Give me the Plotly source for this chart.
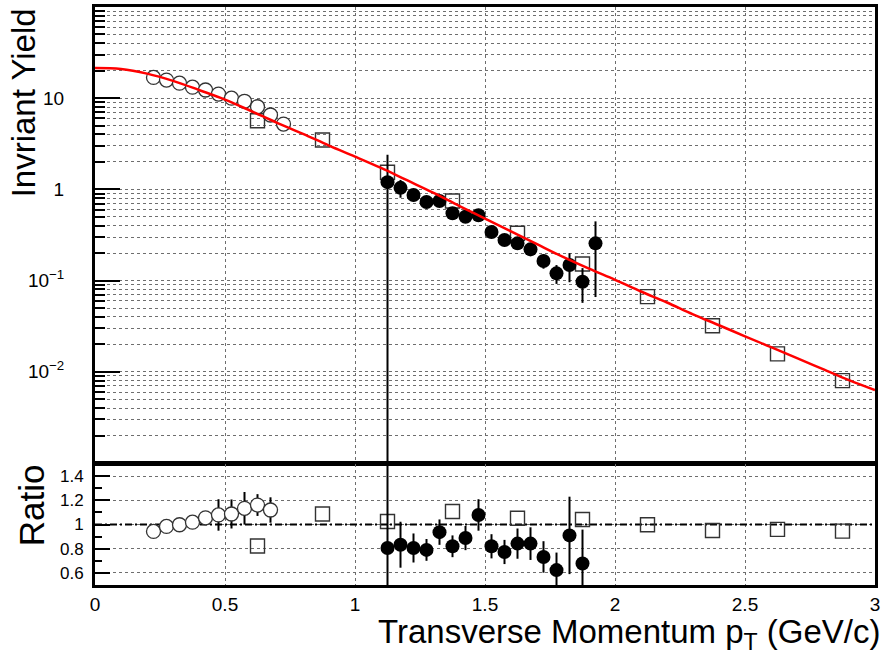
import plotly.graph_objects as go

# ---------------- data ----------------
pt_open = [0.225, 0.275, 0.325, 0.375, 0.425, 0.475, 0.525, 0.575, 0.625, 0.675, 0.725]
y_open = [16.9, 15.8, 14.6, 13.2, 12.3, 11.1, 10.0, 9.25, 8.06, 6.54, 5.2]
e_open = [0.5, 0.35, 0.3, 0.4, 0.5, 1.3, 1.1, 1.1, 0.63, 0.61, 0.45]

pt_sq = [0.625, 0.875, 1.125, 1.375, 1.625, 1.875, 2.125, 2.375, 2.625, 2.875]
y_sq = [5.66, 3.48, 1.54, 0.746, 0.33, 0.152, 0.0667, 0.032, 0.0157, 0.0080]

pt_full = [1.125, 1.175, 1.225, 1.275, 1.325, 1.375, 1.425, 1.475, 1.525,
           1.575, 1.625, 1.675, 1.725, 1.775, 1.825, 1.875, 1.925]
y_full = [1.20, 1.04, 0.868, 0.728, 0.747, 0.547, 0.502, 0.52, 0.341,
          0.279, 0.256, 0.22, 0.164, 0.12, 0.148, 0.097, 0.256]
e_full = [1.20, 0.23, 0.13, 0.083, 0.084, 0.06, 0.057, 0.063, 0.042,
          0.036, 0.038, 0.035, 0.029, 0.028, 0.052, 0.04, 0.19]

# fit curve
pt_fit = [0.0, 0.1, 0.2, 0.3, 0.4, 0.5, 0.6, 0.7, 0.8, 0.9, 1.0, 1.1, 1.2, 1.3, 1.4, 1.5,
          1.6, 1.7, 1.8, 1.9, 2.0, 2.1, 2.2, 2.3, 2.4, 2.5, 2.6, 2.7, 2.8, 2.9, 3.0]
y_fit = [21.4, 20.9, 18.6, 15.5, 12.3, 9.66, 7.24, 5.37, 4.07, 3.02, 2.29, 1.72, 1.26,
         0.923, 0.661, 0.479, 0.347, 0.251, 0.182, 0.135, 0.102, 0.0759, 0.0575,
         0.0427, 0.0324, 0.0245, 0.0186, 0.0141, 0.0107, 0.0081, 0.0063]

# ratio panel
pt_ropen = [0.225, 0.275, 0.325, 0.375, 0.425, 0.475, 0.525, 0.575, 0.625, 0.675]
r_open = [0.943, 0.984, 0.998, 1.019, 1.055, 1.079, 1.087, 1.134, 1.161, 1.12]
er_open = [0.03, 0.02, 0.02, 0.03, 0.04, 0.13, 0.12, 0.135, 0.09, 0.105]

r_sq = [0.822, 1.087, 1.025, 1.107, 1.052, 1.041, 0.998, 0.95, 0.96, 0.945]

pt_rfull = [1.125, 1.175, 1.225, 1.275, 1.325, 1.375, 1.425, 1.475, 1.525,
            1.575, 1.625, 1.675, 1.725, 1.775, 1.825, 1.875]
r_full = [0.806, 0.833, 0.806, 0.79, 0.937, 0.82, 0.888, 1.079, 0.82,
          0.773, 0.842, 0.842, 0.732, 0.623, 0.91, 0.678]
er_full = [1.2, 0.19, 0.12, 0.09, 0.105, 0.09, 0.1, 0.13, 0.1,
           0.1, 0.125, 0.135, 0.13, 0.145, 0.32, 0.28]

top_tickvals = [0.01, 0.1, 1, 10]
top_ticktext = ["10<sup>\u22122</sup>", "10<sup>\u22121</sup>", "1", "10"]
ratio_tickvals = [0.6, 0.8, 1.0, 1.2, 1.4]
ratio_ticktext = ["0.6", "0.8", "1", "1.2", "1.4"]
x_tickvals = [0, 0.5, 1, 1.5, 2, 2.5, 3]
x_ticktext = ["0", "0.5", "1", "1.5", "2", "2.5", "3"]

# ---------------- figure ----------------
FONT = "Liberation Sans, Arial, Helvetica, sans-serif"
GRID = "#6e6e6e"
ebar = dict(type="data", thickness=2, width=0, color="black")

fig = go.Figure()

# top panel
fig.add_trace(go.Scatter(x=pt_sq, y=y_sq, mode="markers", xaxis="x", yaxis="y",
                         marker=dict(symbol="square-open", size=14, color="#333333",
                                     line=dict(width=1.4))))
fig.add_trace(go.Scatter(x=pt_open, y=y_open, mode="markers", xaxis="x", yaxis="y",
                         error_y=dict(array=e_open, **ebar),
                         marker=dict(symbol="circle", size=14, color="white",
                                     line=dict(width=1.3, color="#333333"))))
fig.add_trace(go.Scatter(x=pt_full, y=y_full, mode="markers", xaxis="x", yaxis="y",
                         error_y=dict(array=e_full, **ebar),
                         marker=dict(symbol="circle", size=14, color="black")))
fig.add_trace(go.Scatter(x=pt_fit, y=y_fit, mode="lines", xaxis="x", yaxis="y",
                         line=dict(color="#ff0000", width=2.5, shape="spline")))

# ratio panel
fig.add_trace(go.Scatter(x=[0, 3], y=[1, 1], mode="lines", xaxis="x2", yaxis="y2",
                         line=dict(color="black", width=1.8, dash="7px,3px,2px,3px")))
fig.add_trace(go.Scatter(x=pt_sq, y=r_sq, mode="markers", xaxis="x2", yaxis="y2",
                         marker=dict(symbol="square-open", size=14, color="#333333",
                                     line=dict(width=1.4))))
fig.add_trace(go.Scatter(x=pt_ropen, y=r_open, mode="markers", xaxis="x2", yaxis="y2",
                         error_y=dict(array=er_open, **ebar),
                         marker=dict(symbol="circle", size=14, color="white",
                                     line=dict(width=1.3, color="#333333"))))
fig.add_trace(go.Scatter(x=pt_rfull, y=r_full, mode="markers", xaxis="x2", yaxis="y2",
                         error_y=dict(array=er_full, **ebar),
                         marker=dict(symbol="circle", size=14, color="black")))

minor_top = [k * 10.0 ** n for n in range(-3, 2) for k in range(2, 10)]

axis_common = dict(showline=True, linecolor="black", linewidth=3, mirror=True,
                   zeroline=False, gridcolor=GRID, griddash="dot", gridwidth=1)

fig.update_layout(
    width=884, height=660,
    margin=dict(l=95, r=4, t=7, b=75),
    paper_bgcolor="white", plot_bgcolor="white",
    showlegend=False,
    font=dict(family=FONT, color="black"),
    xaxis=dict(domain=[0, 1], range=[0, 3], anchor="y", showticklabels=False,
               tickvals=x_tickvals, ticks="", showgrid=True, **axis_common),
    yaxis=dict(domain=[0.2111, 1], type="log", range=[-3, 2], anchor="x",
               tickvals=top_tickvals, ticktext=top_ticktext, ticks="inside",
               ticklen=25, tickwidth=1.5, tickcolor="black",
               tickfont=dict(size=19), ticklabelstandoff=24, showgrid=True,
               minor=dict(tickvals=minor_top, ticks="inside", ticklen=10,
                          tickwidth=1.5, tickcolor="black", showgrid=True,
                          gridcolor=GRID, griddash="dot", gridwidth=1),
               **axis_common),
    xaxis2=dict(domain=[0, 1], range=[0, 3], anchor="y2",
                tickvals=x_tickvals, ticktext=x_ticktext, ticks="",
                tickfont=dict(size=19), ticklabelstandoff=0, showgrid=True,
                **axis_common),
    yaxis2=dict(domain=[0, 0.2093], range=[0.5, 1.5], anchor="x2",
                tickvals=ratio_tickvals, ticktext=ratio_ticktext, ticks="inside",
                ticklen=15, tickwidth=1.5, tickcolor="black",
                tickfont=dict(size=17), ticklabelstandoff=5, showgrid=True,
                minor=dict(tickvals=[0.7, 0.9, 1.1, 1.3], ticks="inside", ticklen=7,
                           tickwidth=1.5, tickcolor="black", showgrid=False),
                **axis_common),
    annotations=[
        dict(text="Invriant Yield", xref="paper", yref="paper", x=-0.0905, y=0.834,
             xanchor="center", yanchor="middle", textangle=-90, showarrow=False,
             font=dict(size=33, family=FONT)),
        dict(text="Ratio", xref="paper", yref="paper", x=-0.082, y=0.138,
             xanchor="center", yanchor="middle", textangle=-90, showarrow=False,
             font=dict(size=35, family=FONT)),
        dict(text="Transverse Momentum p<sub>T</sub> (GeV/c)", xref="paper", yref="paper",
             x=1.01, y=-0.085, xanchor="right", yanchor="middle", showarrow=False,
             font=dict(size=33, family=FONT)),
    ],
)

fig.write_html("out.html")
